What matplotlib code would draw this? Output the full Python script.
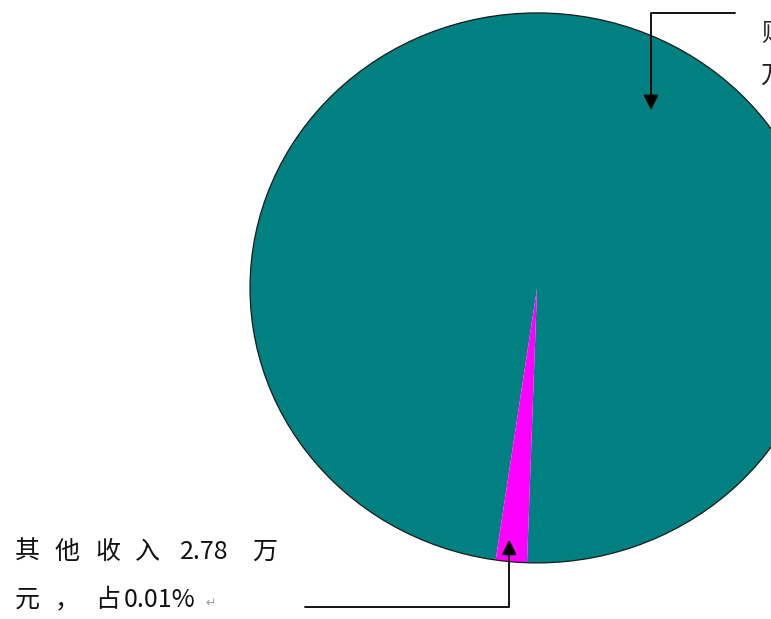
"""
Income share pie (ellipse, cropped on the right) with two callouts.
Saves out.png, 771x619 px.
"""
from matplotlib import pyplot as plt
from matplotlib.patches import Circle

plt.rcParams['font.family'] = ['Noto Sans CJK SC', 'DejaVu Sans']

# slice sizes as they look in the picture (the small slice is drawn exaggerated)
slice_names = ["财政补助收入", "其他收入"]
slice_share = [98.25, 1.75]
slice_colors = ["#008080", "#FF00FF"]

# callout texts
other_line1 = ["其", "他", "收", "入", "2.78", "万"]
other_line2 = ["元", "，", "占", "0.01%"]
main_line1 = "财政补助收入"
main_line2 = "万元，占 99.99%"


def main():
    fig = plt.figure(figsize=(7.71, 6.19), dpi=100)
    ax = fig.add_axes([0, 0, 1, 1])

    ax.pie(slice_share, colors=slice_colors, startangle=268, counterclock=True,
           wedgeprops=dict(linewidth=0))
    # only the rim has an outline
    ax.add_patch(Circle((0, 0), 1, fill=False, edgecolor="#1a1a1a", lw=0.9))
    # pie forces a circle, the original is slightly wider than tall
    ax.set_aspect('auto')
    ax.set_xlim(-1.871, 0.815)
    ax.set_ylim(-1.204, 1.047)
    ax.axis('off')

    arrow = dict(arrowstyle="-|>,head_length=0.9,head_width=0.45", color="black",
                 lw=1.3, shrinkA=0, shrinkB=0,
                 connectionstyle="angle,angleA=0,angleB=90,rad=0")

    # top right callout (mostly cut off by the edge, as in the original)
    ax.annotate("", xy=(0.397, 0.647), xytext=(0.69, 1.0), arrowprops=arrow)
    ax.text(0.78, 0.924, main_line1, fontsize=18, va='center', ha='left',
            color="#222222")
    ax.text(0.78, 0.771, main_line2, fontsize=18, va='center', ha='left',
            color="#222222")

    # bottom left callout
    ax.annotate("", xy=(-0.097, -0.916), xytext=(-0.808, -1.16), arrowprops=arrow)

    x_pos1 = [15, 55, 95, 135, 180, 252]
    for x, s in zip(x_pos1, other_line1):
        fig.text(x / 771, 1 - 552 / 619, s, fontsize=18, va='center', ha='left',
                 color="#111111")
    x_pos2 = [15, 55, 95, 124]
    for x, s in zip(x_pos2, other_line2):
        fig.text(x / 771, 1 - 600 / 619, s, fontsize=18, va='center', ha='left',
                 color="#111111")
    fig.text(205 / 771, 1 - 603 / 619, "↵", fontsize=9, va='center', ha='left',
             color="#999999")

    plt.savefig("out.png", dpi=100)
    plt.close()


if __name__ == "__main__":
    main()
